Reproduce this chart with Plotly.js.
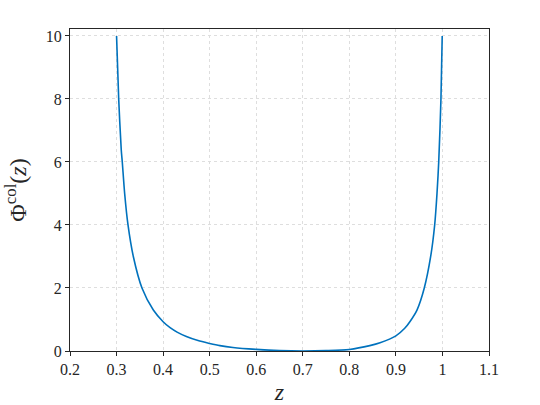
<!DOCTYPE html>
<html>
<head>
<meta charset="utf-8">
<script src="https://cdn.plot.ly/plotly-3.0.1.min.js"></script>
<style>
  html, body { margin: 0; padding: 0; background: #fff; }
  #chart { width: 540px; height: 405px; }
</style>
</head>
<body>
<div id="chart"></div>
<script>
// valores
const z = [0.300, 0.3046, 0.3101, 0.3123, 0.3174, 0.3246, 0.336, 0.3546, 0.379, 0.400,
           0.415, 0.430, 0.450, 0.475, 0.500, 0.522, 0.550, 0.600, 0.650, 0.700, 0.750,
           0.800, 0.844, 0.866, 0.900, 0.919, 0.930, 0.9453, 0.961, 0.9747, 0.9833,
           0.9883, 0.992, 0.9968, 0.9995];
const phi = [10.0, 8.0, 6.38, 6.0, 5.0, 4.0, 3.0, 2.0, 1.30, 0.93,
             0.74, 0.60, 0.46, 0.33, 0.24, 0.17, 0.11, 0.05, 0.012, 0.0, 0.012,
             0.05, 0.17, 0.26, 0.48, 0.72, 0.93, 1.30, 2.0, 3.0, 4.0,
             5.0, 6.0, 8.0, 10.0];

const xTicks = [0.2, 0.3, 0.4, 0.5, 0.6, 0.7, 0.8, 0.9, 1.0, 1.1];
const xTickText = ['0.2', '0.3', '0.4', '0.5', '0.6', '0.7', '0.8', '0.9', '1', '1.1'];
const yTicks = [0, 2, 4, 6, 8, 10];

const trace = {
    x: z,
    y: phi,
    type: 'scatter',
    mode: 'lines',
    line: { color: '#0072BD', width: 1.6, shape: 'spline', smoothing: 0.8 },
    hoverinfo: 'skip'
};

const fonte = 'Liberation Serif, Times New Roman, serif';

const layout = {
    width: 540,
    height: 405,
    paper_bgcolor: '#fff',
    plot_bgcolor: '#fff',
    showlegend: false,
    margin: { l: 70, r: 51, t: 29, b: 54 },
    font: { family: fonte, size: 16, color: '#262626' },
    xaxis: {
        range: [0.2, 1.1],
        tickvals: xTicks,
        ticktext: xTickText,
        ticks: 'outside',
        ticklen: 4,
        tickcolor: '#262626',
        showline: true,
        linecolor: '#262626',
        linewidth: 1,
        mirror: true,
        showgrid: true,
        gridcolor: '#dedede',
        griddash: '3px,3px',
        zeroline: false,
        title: { text: '<i>z</i>', font: { family: fonte, size: 24, style: 'italic' }, standoff: 6 }
    },
    yaxis: {
        range: [0, 10.22],
        tickvals: yTicks,
        ticks: 'outside',
        ticklen: 4,
        tickcolor: '#262626',
        showline: true,
        linecolor: '#262626',
        linewidth: 1,
        mirror: true,
        showgrid: true,
        gridcolor: '#dedede',
        griddash: '3px,3px',
        zeroline: false,
        title: { text: 'Φ<sup>col</sup>(<i>z</i>)', font: { family: fonte, size: 24 }, standoff: 12 }
    }
};

Plotly.newPlot('chart', [trace], layout, { displayModeBar: false, staticPlot: true });
</script>
</body>
</html>
